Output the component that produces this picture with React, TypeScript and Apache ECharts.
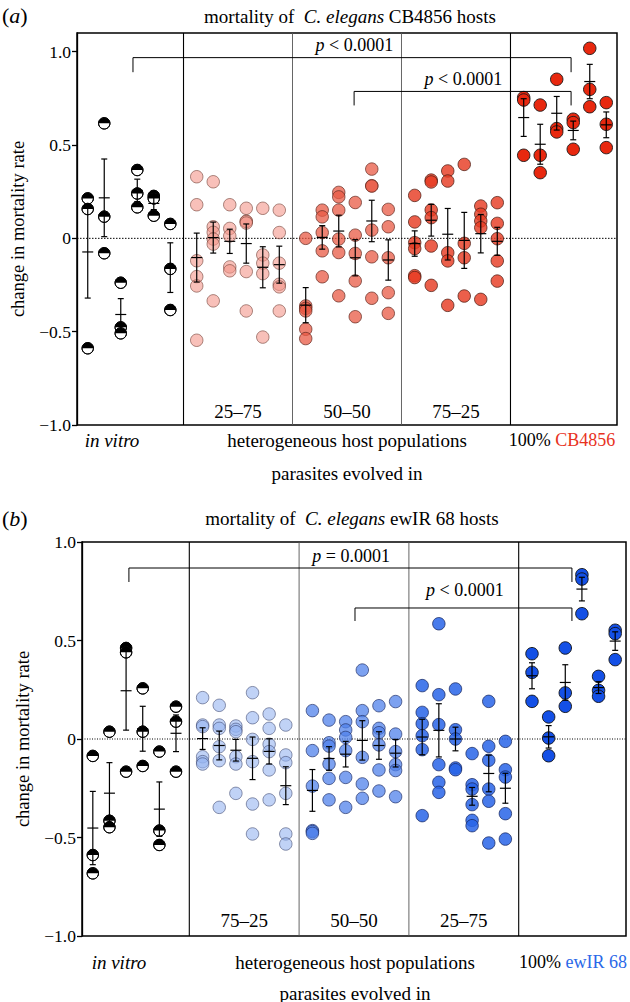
import React, { useEffect, useRef } from "react";
import * as echarts from "echarts";

const FONT = "'Liberation Serif', 'Times New Roman', Times, serif";
const Y_TICKS = [-1, -0.5, 0, 0.5, 1];
const SEC = 6.6;
const OFF = 0.8;
const X_MIN = 0.15;
const X_MAX = 32.85;
const FS = 18;

// ---------- panel (a): mortality of C. elegans CB4856 hosts ----------
const A_VITRO = [[0.214, 0.157, -0.589], [0.616, 0.116, -0.08], [-0.238, -0.477, -0.509], [0.366, 0.24, 0.166], [0.227, 0.214, 0.121], [0.077, -0.164, -0.384]];
const A_VITRO_MEAN = [-0.073, 0.217, -0.408, 0.257, 0.187, -0.157];
const A_VITRO_SE = [0.247, 0.208, 0.085, 0.06, 0.033, 0.133];

const A_MIX1 = [[0.33, 0.18, -0.12, -0.205, -0.255, -0.546], [0.303, 0.062, 0.032, -0.004, -0.031, -0.335], [0.18, 0.053, 0.013, -0.153, -0.174], [0.161, 0.092, 0.09, 0.082, -0.178, -0.389], [0.161, -0.089, -0.133, -0.189, -0.529], [0.151, 0.031, -0.133, -0.246, -0.26, -0.389]];
const A_MIX1_MEAN = [-0.103, 0.004, -0.016, -0.028, -0.155, -0.141];
const A_MIX1_SE = [0.131, 0.083, 0.065, 0.105, 0.11, 0.099];

const A_MIX2 = [[0, -0.362, -0.375, -0.389, -0.487, -0.537], [0.151, 0.115, 0.031, -0.067, -0.206], [0.246, 0.222, 0.151, -0.004, -0.076, -0.308], [0.192, 0.017, -0.081, -0.228, -0.42], [0.371, 0.282, 0.28, 0.044, -0.099, -0.321], [0.155, 0.062, -0.104, -0.291, -0.402]];
const A_MIX2_MEAN = [-0.358, 0.005, 0.039, -0.104, 0.093, -0.116];
const A_MIX2_SE = [0.094, 0.063, 0.085, 0.097, 0.111, 0.108];

const A_MIX3 = [[0.23, 0.088, -0.023, -0.055, -0.2, -0.21], [0.312, 0.302, 0.152, 0.111, -0.041, -0.252], [0.361, 0.307, -0.077, -0.121, -0.359], [0.396, -0.027, -0.104, -0.309], [0.173, 0.129, 0.093, 0.057, -0.327], [0.191, 0.08, -0.002, -0.121, -0.229]];
const A_MIX3_MEAN = [-0.028, 0.097, 0.022, -0.011, 0.025, -0.016];
const A_MIX3_SE = [0.068, 0.085, 0.138, 0.15, 0.103, 0.075];

const A_PURE = [[0.754, 0.741, 0.445], [0.714, 0.445, 0.352], [0.852, 0.588, 0.57], [0.638, 0.62, 0.477], [1.018, 0.798, 0.705], [0.727, 0.611, 0.486]];
const A_PURE_MEAN = [0.647, 0.504, 0.67, 0.578, 0.84, 0.608];
const A_PURE_SE = [0.101, 0.107, 0.09, 0.05, 0.092, 0.069];

const A_SECTION_LABELS = ["25–75", "50–50", "75–25"];
const A_BRACKETS = [[3.54, 30.07, 0.968, 0.89], [16.93, 30.07, 0.787, 0.712]];
const A_P_POS = [[19.3, 1.037], [25.9, 0.855]];
const A_P_TEXT = ["{i|p} < 0.0001", "{i|p} < 0.0001"];

// ---------- panel (b): mortality of C. elegans ewIR 68 hosts ----------
const B_VITRO = [[-0.086, -0.589, -0.682], [0.037, -0.415, -0.448], [0.462, 0.44, -0.166], [0.257, 0.037, -0.137], [-0.064, -0.465, -0.538], [0.164, 0.088, -0.166]];
const B_VITRO_MEAN = [-0.452, -0.275, 0.245, 0.052, -0.356, 0.029];
const B_VITRO_SE = [0.186, 0.155, 0.2, 0.114, 0.138, 0.093];

const B_MIX1 = [[0.21, 0.071, 0.063, -0.09, -0.115, -0.127], [0.171, 0.071, 0.054, -0.039, -0.11, -0.347], [0.066, 0.049, 0.037, -0.09, -0.127, -0.276], [0.235, 0.108, -0.002, -0.115, -0.33, -0.482], [0.127, 0.054, -0.027, -0.064, -0.157, -0.309], [0.071, -0.081, -0.12, -0.276, -0.482, -0.533]];
const B_MIX1_MEAN = [0.002, -0.033, -0.057, -0.098, -0.063, -0.237];
const B_MIX1_SE = [0.055, 0.073, 0.055, 0.108, 0.064, 0.096];

const B_MIX2 = [[0.144, -0.059, -0.239, -0.465, -0.47, -0.479], [0.096, -0.019, -0.036, -0.127, -0.2, -0.309], [0.088, 0.046, 0.008, -0.059, -0.195, -0.347], [0.35, 0.144, 0.088, -0.093, -0.228, -0.301], [0.169, 0.054, 0.032, -0.03, -0.157, -0.264], [0.19, 0.025, -0.064, -0.13, -0.16, -0.293]];
const B_MIX2_MEAN = [-0.261, -0.099, -0.077, -0.007, -0.033, -0.072];
const B_MIX2_SE = [0.106, 0.06, 0.065, 0.1, 0.07, 0.07];

const B_MIX3 = [[0.271, 0.135, 0.078, 0.017, -0.054, -0.389], [0.585, 0.225, 0.073, -0.13, -0.22, -0.271], [0.254, 0.047, 0.0, -0.147, -0.156], [-0.074, -0.232, -0.254, -0.333, -0.413, -0.44], [0.191, -0.037, -0.108, -0.254, -0.316, -0.528], [-0.012, -0.156, -0.193, -0.379, -0.508]];
const B_MIX3_MEAN = [0.01, 0.044, 0.0, -0.291, -0.175, -0.25];
const B_MIX3_SE = [0.09, 0.135, 0.06, 0.045, 0.093, 0.076];

const B_PURE = [[0.433, 0.338, 0.191], [0.112, 0.005, -0.085], [0.462, 0.234, 0.166], [0.834, 0.812, 0.636], [0.318, 0.247, 0.217], [0.552, 0.535, 0.403]];
const B_PURE_MEAN = [0.321, 0.011, 0.287, 0.761, 0.261, 0.497];
const B_PURE_SE = [0.066, 0.057, 0.09, 0.06, 0.03, 0.047];

const B_SECTION_LABELS = ["75–25", "50–50", "25–75"];
const B_BRACKETS = [[2.97, 29.6, 0.868, 0.797], [16.56, 29.6, 0.665, 0.599]];
const B_P_POS = [[18.66, 0.929], [25.5, 0.756]];
const B_P_TEXT = ["{i|p} = 0.0001", "{i|p} < 0.0001"];

// ---------- styles ----------
const A_STYLES = [
  null,
  { color: "rgba(244,150,138,0.6)", border: "rgba(110,60,50,0.65)" },
  { color: "rgba(232,90,68,0.75)", border: "rgba(90,35,25,0.75)" },
  { color: "rgba(230,60,35,0.82)", border: "rgba(70,25,15,0.8)" },
  { color: "#E8280F", border: "#1a1a1a" },
];
const B_STYLES = [
  null,
  { color: "rgba(150,180,240,0.6)", border: "rgba(50,60,100,0.6)" },
  { color: "rgba(80,130,235,0.75)", border: "rgba(30,45,100,0.75)" },
  { color: "rgba(40,100,232,0.85)", border: "rgba(20,35,90,0.8)" },
  { color: "#1450E6", border: "#111" },
];

const colX = (s: number, c: number) => s * SEC + OFF + c;

const RICH = {
  i: { fontFamily: FONT, fontSize: FS, fontStyle: "italic", fill: "#000", color: "#000" },
  n: { fontFamily: FONT, fontSize: FS, fill: "#000", color: "#000" },
};

function buildSeries(
  gi: number,
  groups: { pts: number[][]; mean: number[]; se: number[] }[],
  styles: any[],
  brackets: number[][],
  pPos: number[][],
  pText: string[],
  sectionLabels: string[],
  labelY: number,
  zeroDash: number[]
) {
  const series: any[] = [];
  const axis = { xAxisIndex: gi, yAxisIndex: gi };

  // section dividers
  series.push({
    type: "custom",
    ...axis,
    silent: true,
    z: 1,
    data: [1, 2, 3, 4].map((k) => [k * SEC, k]),
    renderItem: (params: any, api: any) => {
      const cs = params.coordSys;
      const p = api.coord([api.value(0), 0]);
      const k = api.value(1);
      const inner = k === 2 || k === 3;
      return {
        type: "line",
        shape: { x1: p[0], y1: cs.y, x2: p[0], y2: cs.y + cs.height },
        style: { stroke: inner ? "#555" : "#000", lineWidth: inner ? 0.9 : 1.1 },
      };
    },
  });

  // zero dotted line
  series.push({
    type: "custom",
    ...axis,
    silent: true,
    z: 1,
    data: [[0]],
    renderItem: (params: any, api: any) => {
      const cs = params.coordSys;
      const p = api.coord([X_MIN, api.value(0)]);
      return {
        type: "line",
        shape: { x1: cs.x, y1: p[1], x2: cs.x + cs.width, y2: p[1] },
        style: { stroke: "#000", lineWidth: 1, lineDash: zeroDash },
      };
    },
  });

  // in vitro half-filled points
  const vitroData: number[][] = [];
  groups[0].pts.forEach((col, c) => col.forEach((v) => vitroData.push([colX(0, c), v])));
  series.push({
    type: "custom",
    ...axis,
    z: 3,
    data: vitroData,
    renderItem: (params: any, api: any) => {
      const p = api.coord([api.value(0), api.value(1)]);
      const r = 5.7;
      return {
        type: "group",
        children: [
          { type: "circle", shape: { cx: p[0], cy: p[1], r }, style: { fill: "#fff", stroke: "#000", lineWidth: 1 } },
          { type: "sector", shape: { cx: p[0], cy: p[1], r, r0: 0, startAngle: Math.PI, endAngle: Math.PI * 2, clockwise: true }, style: { fill: "#000" } },
          { type: "circle", shape: { cx: p[0], cy: p[1], r }, style: { fill: "none", stroke: "#000", lineWidth: 1 } },
        ],
      };
    },
  });

  // colored groups
  for (let s = 1; s < 5; s++) {
    const data: number[][] = [];
    groups[s].pts.forEach((col, c) => col.forEach((v) => data.push([colX(s, c), v])));
    series.push({
      type: "scatter",
      ...axis,
      z: 3,
      symbol: "circle",
      symbolSize: 12.5,
      data,
      itemStyle: { color: styles[s].color, borderColor: styles[s].border, borderWidth: 0.9, opacity: 1 },
    });
  }

  // error bars
  const ebData: number[][] = [];
  groups.forEach((g, s) => g.mean.forEach((m, c) => ebData.push([colX(s, c), m, g.se[c]])));
  series.push({
    type: "custom",
    ...axis,
    z: 5,
    data: ebData,
    renderItem: (params: any, api: any) => {
      const x = api.value(0), m = api.value(1), se = api.value(2);
      const pm = api.coord([x, m]);
      const pt = api.coord([x, m + se]);
      const pb = api.coord([x, m - se]);
      const st = { stroke: "#000", lineWidth: 1.2 };
      return {
        type: "group",
        children: [
          { type: "line", shape: { x1: pt[0], y1: pt[1], x2: pb[0], y2: pb[1] }, style: st },
          { type: "line", shape: { x1: pt[0] - 3, y1: pt[1], x2: pt[0] + 3, y2: pt[1] }, style: st },
          { type: "line", shape: { x1: pb[0] - 3, y1: pb[1], x2: pb[0] + 3, y2: pb[1] }, style: st },
          { type: "line", shape: { x1: pm[0] - 5.5, y1: pm[1], x2: pm[0] + 5.5, y2: pm[1] }, style: st },
        ],
      };
    },
  });

  // significance brackets
  series.push({
    type: "custom",
    ...axis,
    silent: true,
    z: 4,
    data: brackets,
    renderItem: (params: any, api: any) => {
      const x1 = api.value(0), x2 = api.value(1), yt = api.value(2), yd = api.value(3);
      const pts = [api.coord([x1, yd]), api.coord([x1, yt]), api.coord([x2, yt]), api.coord([x2, yd])];
      return { type: "polyline", shape: { points: pts }, style: { stroke: "#000", lineWidth: 1, fill: "none" } };
    },
  });

  // p-value texts
  series.push({
    type: "custom",
    ...axis,
    silent: true,
    z: 6,
    data: pPos,
    renderItem: (params: any, api: any) => {
      const p = api.coord([api.value(0), api.value(1)]);
      return {
        type: "text",
        x: p[0],
        y: p[1],
        style: { text: pText[params.dataIndex], rich: RICH, fontFamily: FONT, fontSize: FS, fill: "#000", align: "right", verticalAlign: "middle" },
      };
    },
  });

  // section labels
  series.push({
    type: "custom",
    ...axis,
    silent: true,
    z: 6,
    data: sectionLabels.map((_, i) => [(i + 1.5) * SEC, labelY]),
    renderItem: (params: any, api: any) => {
      const p = api.coord([api.value(0), api.value(1)]);
      return {
        type: "text",
        x: p[0],
        y: p[1],
        style: { text: sectionLabels[params.dataIndex], fontFamily: FONT, fontSize: 19, fill: "#000", align: "center", verticalAlign: "middle" },
      };
    },
  });

  return series;
}

const yAxisBase = (gi: number, max: number) => ({
  type: "value",
  gridIndex: gi,
  min: -1,
  max,
  interval: 0.5,
  splitLine: { show: false },
  axisLine: { show: true, lineStyle: { color: "#000", width: 1.3 } },
  axisTick: { show: true, length: 5, inside: false, customValues: Y_TICKS, lineStyle: { color: "#000", width: 1.3 } },
  axisLabel: {
    customValues: Y_TICKS,
    fontFamily: FONT,
    fontSize: 17.5,
    color: "#000",
    margin: 6,
    formatter: (v: number) => (Math.abs(v) < 1e-9 ? "0" : v.toFixed(1).replace("-", "−")),
  },
  name: "change in mortality rate",
  nameLocation: "middle",
  nameGap: 50,
  nameRotate: 90,
  nameTextStyle: { fontFamily: FONT, fontSize: 18.5, color: "#000" },
});

const xAxisBase = (gi: number) => ({
  type: "value",
  gridIndex: gi,
  min: X_MIN,
  max: X_MAX,
  show: false,
  splitLine: { show: false },
});

const textEl = (x: number, y: number, text: string, rich: any, align = "center", size = FS) => ({
  type: "text",
  x,
  y,
  style: { text, rich, fontFamily: FONT, fontSize: size, fill: "#000", align, verticalAlign: "middle" },
});

export default function App() {
  const ref = useRef<HTMLDivElement>(null);
  useEffect(() => {
    if (!ref.current) return;
    const chart = echarts.init(ref.current, undefined, { renderer: "svg" });

    const aGroups = [
      { pts: A_VITRO, mean: A_VITRO_MEAN, se: A_VITRO_SE },
      { pts: A_MIX1, mean: A_MIX1_MEAN, se: A_MIX1_SE },
      { pts: A_MIX2, mean: A_MIX2_MEAN, se: A_MIX2_SE },
      { pts: A_MIX3, mean: A_MIX3_MEAN, se: A_MIX3_SE },
      { pts: A_PURE, mean: A_PURE_MEAN, se: A_PURE_SE },
    ];
    const bGroups = [
      { pts: B_VITRO, mean: B_VITRO_MEAN, se: B_VITRO_SE },
      { pts: B_MIX1, mean: B_MIX1_MEAN, se: B_MIX1_SE },
      { pts: B_MIX2, mean: B_MIX2_MEAN, se: B_MIX2_SE },
      { pts: B_MIX3, mean: B_MIX3_MEAN, se: B_MIX3_SE },
      { pts: B_PURE, mean: B_PURE_MEAN, se: B_PURE_SE },
    ];

    const richBase = {
      n: { fontFamily: FONT, fontSize: 19, fill: "#000" },
      i: { fontFamily: FONT, fontSize: 19, fontStyle: "italic", fill: "#000" },
      s: { fontFamily: FONT, fontSize: 18, fill: "#000" },
      r: { fontFamily: FONT, fontSize: 18, fill: "#E8321E" },
      b: { fontFamily: FONT, fontSize: 18, fill: "#2A68E8" },
      big: { fontFamily: FONT, fontSize: 22, fill: "#000" },
      bigi: { fontFamily: FONT, fontSize: 22, fontStyle: "italic", fill: "#000" },
    };

    chart.setOption({
      animation: false,
      backgroundColor: "#fff",
      grid: [
        { left: 76, top: 33, width: 541, height: 392, show: true, borderColor: "#000", borderWidth: 1.5, backgroundColor: "transparent" },
        { left: 82, top: 542, width: 544, height: 394, show: true, borderColor: "#000", borderWidth: 1.5, backgroundColor: "transparent" },
      ],
      xAxis: [xAxisBase(0), xAxisBase(1)],
      yAxis: [yAxisBase(0, 1.1), yAxisBase(1, 1)],
      series: [
        ...buildSeries(0, aGroups, A_STYLES, A_BRACKETS, A_P_POS, A_P_TEXT, A_SECTION_LABELS, -0.925, [1.5, 1.5]),
        ...buildSeries(1, bGroups, B_STYLES, B_BRACKETS, B_P_POS, B_P_TEXT, B_SECTION_LABELS, -0.919, [1, 1.5]),
      ],
      graphic: [
        textEl(2, 15, "{big|(}{bigi|a}{big|)}", richBase, "left", 22),
        textEl(350, 16, "{n|mortality of  }{i|C. elegans}{n| CB4856 hosts}", richBase),
        textEl(112, 440, "{i|in vitro}", richBase),
        textEl(347, 440, "{n|heterogeneous host populations}", richBase),
        textEl(562, 440, "{s|100% }{r|CB4856}", richBase),
        textEl(347, 473, "{n|parasites evolved in}", richBase),
        textEl(2, 518, "{big|(}{bigi|b}{big|)}", richBase, "left", 22),
        textEl(352, 518, "{n|mortality of  }{i|C. elegans}{n| ewIR 68 hosts}", richBase),
        textEl(119, 962, "{i|in vitro}", richBase),
        textEl(355, 962, "{n|heterogeneous host populations}", richBase),
        textEl(573, 962, "{s|100% }{b|ewIR 68}", richBase),
        textEl(355, 993, "{n|parasites evolved in}", richBase),
      ],
    });
    return () => chart.dispose();
  }, []);
  return <div ref={ref} style={{ position: "fixed", left: 0, top: 0, width: 630, height: 1002, background: "#fff" }} />;
}
